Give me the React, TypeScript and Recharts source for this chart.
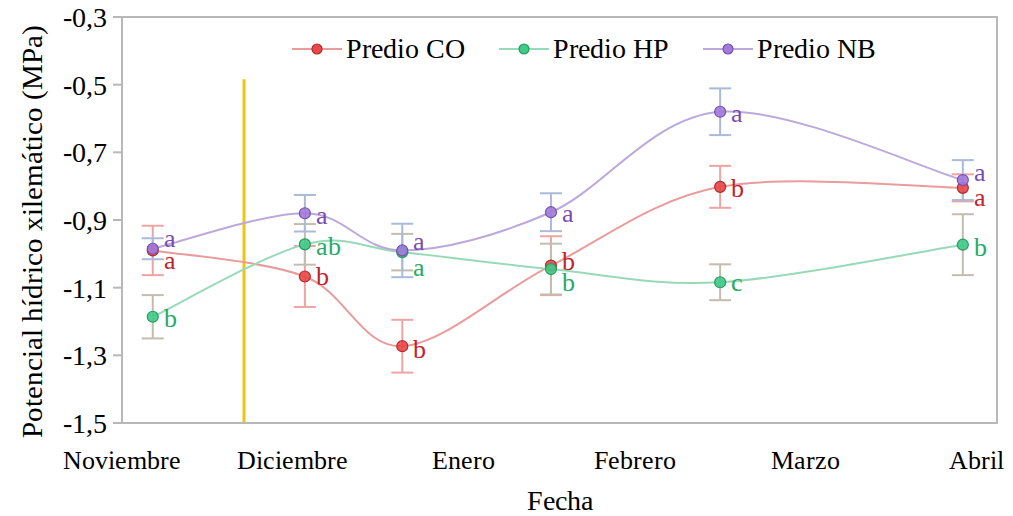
import { LineChart, Line, XAxis, YAxis, ErrorBar, LabelList, ReferenceLine, ReferenceArea, Label } from "recharts";

const months = ["Noviembre", "Diciembre", "Enero", "Febrero", "Marzo", "Abril"];
const monthTicks = [0, 1, 2, 3, 4, 5];
const yTicks = [-1.5, -1.3, -1.1, -0.9, -0.7, -0.5, -0.3];

// sampling dates, in months from the start of the axis
const sampleX = [0.18, 1.07, 1.64, 2.51, 3.5, 4.92];

const coValues = [-0.99, -1.067, -1.273, -1.035, -0.802, -0.805];
const coErrors = [0.073, 0.09, 0.078, 0.087, 0.062, 0.04];
const coLetters = ["a", "b", "b", "b", "b", "a"];

const hpValues = [-1.186, -0.972, -0.995, -1.045, -1.084, -0.973];
const hpErrors = [0.064, 0.06, 0.054, 0.075, 0.053, 0.09];
const hpLetters = ["b", "ab", "a", "b", "c", "b"];

const nbValues = [-0.985, -0.88, -0.99, -0.877, -0.58, -0.782];
const nbErrors = [0.031, 0.054, 0.079, 0.056, 0.069, 0.059];
const nbLetters = ["a", "a", "a", "a", "a", "a"];

const cutX = 0.714;

const data = sampleX.map((x, i) => ({
  x,
  co: coValues[i],
  coErr: coErrors[i],
  coSig: coLetters[i],
  hp: hpValues[i],
  hpErr: hpErrors[i],
  hpSig: hpLetters[i],
  nb: nbValues[i],
  nbErr: nbErrors[i],
  nbSig: nbLetters[i],
}));

// vertical nudges for the letters so they don't sit on top of each other
const coNudge = [10, 0, 3, -4, 2, 10];
const hpNudge = [2, 2, 16, 14, 0, 3];
const nbNudge = [-10, 2, -9, 1, 2, -7];

const FONT = "TimesLike, 'Liberation Serif', 'DejaVu Serif', serif";
const fontFace = `@font-face { font-family: 'TimesLike'; src: local('Liberation Serif'), local('LiberationSerif'), local('LiberationSerif-Regular'), local('Times New Roman'); }`;

// Excel-style smoothed line (Catmull-Rom as cubic beziers)
const excelSmooth = (context: any) => {
  let pts: number[][] = [];
  return {
    areaStart() {},
    areaEnd() {},
    lineStart() {
      pts = [];
    },
    point(x: number, y: number) {
      pts.push([x, y]);
    },
    lineEnd() {
      if (!pts.length) return;
      context.moveTo(pts[0][0], pts[0][1]);
      for (let i = 0; i < pts.length - 1; i++) {
        const p0 = pts[Math.max(i - 1, 0)];
        const p1 = pts[i];
        const p2 = pts[i + 1];
        const p3 = pts[Math.min(i + 2, pts.length - 1)];
        context.bezierCurveTo(
          p1[0] + (p2[0] - p0[0]) / 6,
          p1[1] + (p2[1] - p0[1]) / 6,
          p2[0] - (p3[0] - p1[0]) / 6,
          p2[1] - (p3[1] - p1[1]) / 6,
          p2[0],
          p2[1]
        );
      }
    },
  };
};

const sigLabel = (color: string, nudge: number[]) => (props: any) => {
  const { x, y, value, index } = props;
  return (
    <text
      x={x + 11}
      y={y + nudge[index]}
      dy="0.32em"
      fill={color}
      style={{ fontFamily: FONT, fontSize: 26 }}
    >
      {value}
    </text>
  );
};

const series = [
  { key: "co", name: "Predio CO", line: "#E99C9C", fill: "#E84848", dot: "#B52A2A", err: "#EFA4A4", text: "#C0232B", nudge: coNudge },
  { key: "hp", name: "Predio HP", line: "#98DAB8", fill: "#40C987", dot: "#239C60", err: "#C2BDAF", text: "#27AA64", nudge: hpNudge },
  { key: "nb", name: "Predio NB", line: "#BBA9DB", fill: "#A27AD9", dot: "#7451AE", err: "#ABBAD9", text: "#7A4BAE", nudge: nbNudge },
];

const AXIS = "#B8B8B8";

const App = () => {
  return (
    <div style={{ position: "absolute", left: 0, top: 0, width: 1013, height: 516, background: "#fff", fontFamily: FONT }}>
      <style>{fontFace}</style>
      <LineChart
        width={1013}
        height={516}
        data={data}
        margin={{ top: 17, right: 16, bottom: 0, left: 0 }}
        style={{ fontFamily: FONT }}
      >
        <ReferenceArea
          x1={0}
          x2={5.12}
          y1={-1.5}
          y2={-0.3}
          fill="none"
          stroke={AXIS}
          strokeWidth={2}
        />
        <XAxis
          type="number"
          dataKey="x"
          domain={[0, 5.12]}
          ticks={monthTicks}
          interval={0}
          tickFormatter={(v: number) => months[v]}
          tickLine={false}
          tickSize={0}
          tickMargin={28}
          height={93}
          axisLine={{ stroke: AXIS, strokeWidth: 2 }}
          tick={{ fill: "#000", fontSize: 26, style: { fontFamily: FONT } }}
        >
          <Label
            value="Fecha"
            position="insideBottom"
            offset={6}
            fill="#000"
            fontSize={28}
            style={{ fontFamily: FONT }}
          />
        </XAxis>
        <YAxis
          type="number"
          domain={[-1.5, -0.3]}
          ticks={yTicks}
          interval={0}
          width={122}
          tickFormatter={(v: number) => v.toFixed(1).replace(".", ",")}
          tickSize={9}
          tickMargin={6}
          tickLine={{ stroke: AXIS, strokeWidth: 2 }}
          axisLine={{ stroke: AXIS, strokeWidth: 2 }}
          tick={{ fill: "#000", fontSize: 28, style: { fontFamily: FONT } }}
        >
          <Label
            value="Potencial hídrico xilemático (MPa)"
            position="center"
            angle={-90}
            dx={-29}
            dy={11}
            fill="#000"
            fontSize={29}
            style={{ fontFamily: FONT }}
          />
        </YAxis>
        <ReferenceLine
          segment={[
            { x: cutX, y: -0.484 },
            { x: cutX, y: -1.5 },
          ]}
          stroke="#F3C312"
          strokeWidth={3}
        />
        {series.map(s => (
          <Line
            key={s.key}
            dataKey={s.key}
            name={s.name}
            type={excelSmooth as any}
            stroke={s.line}
            strokeWidth={2}
            dot={{ r: 5.5, fill: s.fill, stroke: s.dot, strokeWidth: 1.2, fillOpacity: 0.9 }}
            activeDot={false}
            isAnimationActive={false}
          >
            <ErrorBar
              dataKey={`${s.key}Err`}
              direction="y"
              width={11}
              stroke={s.err}
              strokeWidth={2}
            />
            <LabelList dataKey={`${s.key}Sig`} content={sigLabel(s.text, s.nudge)} />
          </Line>
        ))}
      </LineChart>
      <div
        style={{
          position: "absolute",
          left: 292,
          top: 34,
          display: "flex",
          alignItems: "center",
          gap: 34,
          fontFamily: FONT,
          fontSize: 28,
          lineHeight: "30px",
          color: "#000",
        }}
      >
        {series.map(s => (
          <div key={s.key} style={{ display: "flex", alignItems: "center", gap: 4 }}>
            <svg width={50} height={20}>
              <line x1={0} y1={10} x2={50} y2={10} stroke={s.line} strokeWidth={2} />
              <circle cx={25} cy={10} r={5} fill={s.fill} stroke={s.dot} strokeWidth={1.2} />
            </svg>
            <span>{s.name}</span>
          </div>
        ))}
      </div>
    </div>
  );
};

export default App;
